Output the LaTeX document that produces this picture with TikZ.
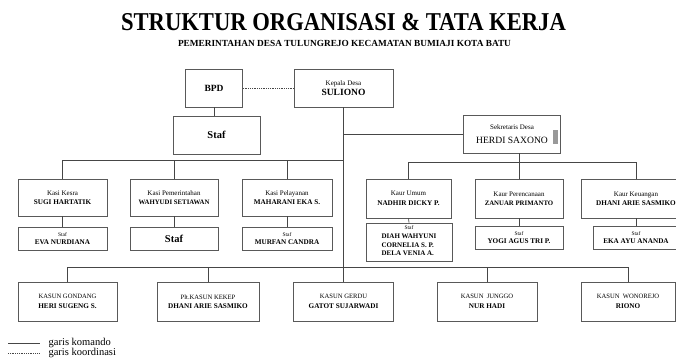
\documentclass[tikz,border=0pt]{standalone}
\usepackage{fontspec}
\setmainfont{Liberation Serif}
\usetikzlibrary{calc}
\tikzset{bx/.style={draw=gray!70!black, line width=0.6pt, align=center, inner sep=1pt, minimum height=37pt, font=\fontsize{7}{9.5}\selectfont},
        sbx/.style={bx, minimum height=23pt},
        ln/.style={draw=gray!55!black, line width=0.7pt},
        koord/.style={draw=gray!55!black, line width=0.5pt, dash pattern=on 1pt off 0.8pt}}
\newcommand{\jb}[2][7]{{\fontsize{#1}{9}\selectfont #2}}
\newcommand{\nm}[2][7.2]{{\fontsize{#1}{9}\selectfont\bfseries #2}}

\begin{document}
\begin{tikzpicture}[x=1pt, y=-1pt]
    \useasboundingbox (0,0) rectangle (676,360);

    % judul
    \node[font=\fontsize{25.7}{28}\selectfont\bfseries] (judul) at (343.5,22.5) {\scalebox{0.88}[1]{STRUKTUR ORGANISASI \& TATA KERJA}};
    \node[font=\fontsize{9.3}{11}\selectfont\bfseries] (sub) at (344.5,43) {PEMERINTAHAN DESA TULUNGREJO KECAMATAN BUMIAJI KOTA BATU};

    % pimpinan
    \node[bx, minimum width=57pt, minimum height=38pt] (bpd) at (214,88) {\nm[9.5]{BPD}};
    \node[bx, minimum width=99pt, minimum height=38pt] (kades) at (343.5,88) {\jb{Kepala Desa}\\\nm[9.5]{SULIONO}};
    \node[bx, minimum width=87pt, minimum height=38pt] (stafbpd) at (216.5,135) {\nm[10.5]{Staf}};
    \node[bx, minimum width=97pt, minimum height=38pt] (sekdes) at (512,134) {\jb{Sekretaris Desa}\\[5pt]\jb[9.6]{HERDI SAXONO}};
    \fill[gray!80] (553,130) rectangle (558,144);

    % kasi
    \node[bx, minimum width=89pt] (kesra) at (62.5,197.5) {\jb{Kasi Kesra}\\\nm{SUGI HARTATIK}};
    \node[bx, minimum width=88pt] (pem) at (174,197.5) {\jb{Kasi Pemerintahan}\\\nm[6.8]{WAHYUDI SETIAWAN}};
    \node[bx, minimum width=90pt] (pel) at (287,197.5) {\jb{Kasi Pelayanan}\\\nm{MAHARANI EKA S.}};
    \node[sbx, minimum width=89pt] (sf1) at (62.5,238.5) {\jb[5.5]{Staf}\\[-1pt]\nm{EVA NURDIANA}};
    \node[sbx, minimum width=88pt] (sf2) at (174,238.5) {\nm[10.5]{Staf}};
    \node[sbx, minimum width=90pt] (sf3) at (287,238.5) {\jb[5.5]{Staf}\\[-1pt]\nm{MURFAN CANDRA}};

    % kaur
    \node[bx, minimum width=85pt, minimum height=39pt] (umum) at (408.5,198.5) {\jb{Kaur Umum}\\\nm{NADHIR DICKY P.}};
    \node[bx, minimum width=88pt, minimum height=39pt] (pere) at (519,198.5) {\jb{Kaur Perencanaan}\\\nm[6.8]{ZANUAR PRIMANTO}};
    \node[bx, minimum width=110pt, minimum height=39pt] (keu) at (636,198.5) {\jb{Kaur Keuangan}\\\nm{DHANI ARIE SASMIKO}};
    \node[bx, minimum width=86pt, minimum height=38pt] (sf4) at (409,242) {\jb[5.5]{Staf}\\[2pt]\nm{\fontsize{7}{8.5}\selectfont\begin{tabular}{@{}l@{}}DIAH WAHYUNI\\CORNELIA S. P.\\DELA VENIA A.\end{tabular}}};
    \node[sbx, minimum width=88pt] (sf5) at (519,237.5) {\jb[5.5]{Staf}\\[-1pt]\nm{YOGI AGUS TRI P.}};
    \node[sbx, minimum width=86pt] (sf6) at (636,237.5) {\jb[5.5]{Staf}\\[-1pt]\nm{EKA AYU ANANDA}};

    % kasun
    \node[bx, minimum width=99pt, minimum height=39pt] (gondang) at (67.5,301.5) {\jb[6.6]{KASUN GONDANG}\\\nm{HERI SUGENG S.}};
    \node[bx, minimum width=102pt, minimum height=39pt] (kekep) at (208,301.5) {\jb[6.6]{Plt.KASUN KEKEP}\\\nm{DHANI ARIE SASMIKO}};
    \node[bx, minimum width=100pt, minimum height=39pt] (gerdu) at (343.5,301.5) {\jb[6.6]{KASUN GERDU}\\\nm{GATOT SUJARWADI}};
    \node[bx, minimum width=100pt, minimum height=39pt] (junggo) at (487,301.5) {\jb[6.6]{KASUN\ \ JUNGGO}\\\nm{NUR HADI}};
    \node[bx, minimum width=94pt, minimum height=39pt] (wono) at (628,301.5) {\jb[6.6]{KASUN\ \ WONOREJO}\\\nm{RIONO}};

    % garis
    \coordinate (lbus) at (0,160);
    \coordinate (rbus) at (0,162);
    \coordinate (bbus) at (0,267);
    \draw[koord] (bpd.east) -- (kades.west);
    \draw[ln] (bpd.south) -- (bpd.south |- stafbpd.north);
    \draw[ln] (kades.south) -- (gerdu.north);
    \draw[ln] (sekdes.west) -- (sekdes.west -| kades.south);
    \draw[ln] (kesra.north) |- (kades.south |- lbus);
    \foreach \n in {pem,pel}
      \draw[ln] (\n.north) -- (\n.north |- lbus);
    \draw[ln] (umum.north) |- (keu.north |- rbus) -- (keu.north);
    \draw[ln] (pere.north) -- (pere.north |- sekdes.south);
    \draw[ln] (gondang.north) |- (wono.north |- bbus) -- (wono.north);
    \foreach \n in {kekep,junggo}
      \draw[ln] (\n.north) -- (\n.north |- bbus);
    \foreach \a/\b in {kesra/sf1, pem/sf2, pel/sf3, umum/sf4, pere/sf5, keu/sf6}
      \draw[ln] (\a.south) -- (\b.north);

    % keterangan
    \coordinate (k1) at (8,343);
    \coordinate (k2) at (40,343);
    \coordinate (k3) at (8,353);
    \coordinate (k4) at (40,353);
    \draw[ln] (k1) -- (k2) node[right=5pt, font=\fontsize{10.5}{12}\selectfont] (lk1) {garis komando};
    \draw[koord] (k3) -- (k4) node[right=5pt, font=\fontsize{10.5}{12}\selectfont] (lk2) {garis koordinasi};
\end{tikzpicture}
\end{document}
